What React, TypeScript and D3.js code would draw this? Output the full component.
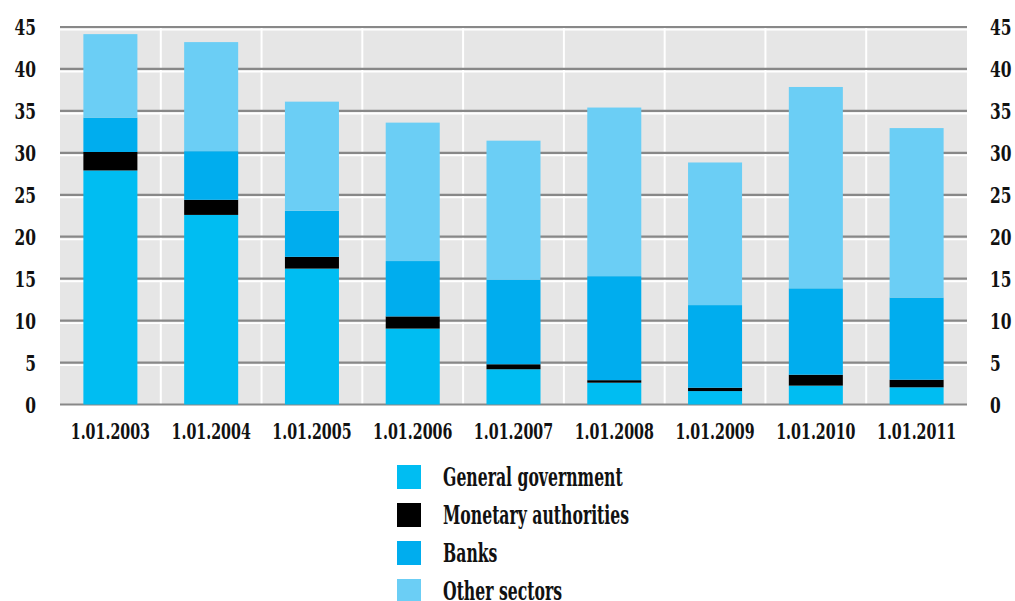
import React from "react";
import * as d3 from "d3";

const categories = ["1.01.2003", "1.01.2004", "1.01.2005", "1.01.2006", "1.01.2007", "1.01.2008", "1.01.2009", "1.01.2010", "1.01.2011"];
const seriesNames = ["General government", "Monetary authorities", "Banks", "Other sectors"];
const generalGovernment = [27.9, 22.6, 16.2, 9.05, 4.2, 2.6, 1.6, 2.25, 2.05];
const monetaryAuthorities = [2.2, 1.8, 1.4, 1.45, 0.6, 0.3, 0.4, 1.3, 0.9];
const banks = [4.1, 5.8, 5.5, 6.6, 10.05, 12.4, 9.85, 10.3, 9.8];
const otherSectors = [9.95, 13.0, 13.0, 16.5, 16.6, 20.1, 17.0, 24.0, 20.2];
const yTicks = [0, 5, 10, 15, 20, 25, 30, 35, 40, 45];
const colors = ["#00BDF2", "#000000", "#00ADEE", "#6BCEF5"];

const W = 1015, H = 601;
const left = 60, right = 967, top = 27, bottom = 404.5;
const FONT = "'DejaVu Serif Condensed', 'DejaVu Serif', serif";

export default function App() {
  const rows = categories.map((c, i) => ({
    cat: c,
    s0: generalGovernment[i],
    s1: monetaryAuthorities[i],
    s2: banks[i],
    s3: otherSectors[i],
  }));
  const stack = d3.stack<any>().keys(["s0", "s1", "s2", "s3"]);
  const stacked = stack(rows);
  const x = d3.scaleBand().domain(categories).range([left, right]).paddingInner(0.464).paddingOuter(0.232);
  const y = d3.scaleLinear().domain([0, 45]).range([bottom, top]);
  const step = x.step();
  const boundaries = categories.slice(1).map((c) => (x(c) as number) - step * 0.232);

  const ts: React.CSSProperties = { fontFamily: FONT, fontWeight: 700, fontStretch: "condensed" };
  return (
    <svg width={W} height={H} style={{ position: "absolute", left: 0, top: 0 }}>
      <rect x={left} y={top} width={right - left} height={bottom - top} fill="#E6E6E6" />
      {boundaries.map((b, i) => (
        <line key={"v" + i} x1={b} x2={b} y1={top} y2={bottom} stroke="#FFFFFF" strokeWidth={2} />
      ))}
      {yTicks.map((t) => (
        <g key={"g" + t}>
          <line x1={left} x2={right} y1={y(t)} y2={y(t)} stroke="#888888" strokeWidth={2.2} />
          <line x1={left} x2={right} y1={y(t) + 2.6} y2={y(t) + 2.6} stroke="#FFFFFF" strokeWidth={1.8} />
        </g>
      ))}
      {stacked.map((layer, li) => (
        <g key={"l" + li} fill={colors[li]}>
          {layer.map((d: any, i: number) => (
            <rect key={i} x={x(categories[i])} width={x.bandwidth()} y={y(d[1])} height={y(d[0]) - y(d[1])} />
          ))}
        </g>
      ))}
      {yTicks.map((t) => (
        <g key={"yl" + t}>
          <text style={ts} transform={`translate(36,${y(t) + 8}) scale(0.78,1)`} textAnchor="end" fontSize={22} fill="#111">{t}</text>
          <text style={ts} transform={`translate(990,${y(t) + 8}) scale(0.78,1)`} textAnchor="start" fontSize={22} fill="#111">{t}</text>
        </g>
      ))}
      {categories.map((c) => (
        <text style={ts} key={"xl" + c} transform={`translate(${(x(c) as number) + x.bandwidth() / 2},439) scale(0.72,1)`} textAnchor="middle" fontSize={22} fill="#111">{c}</text>
      ))}
      {seriesNames.map((s, i) => (
        <g key={"lg" + s}>
          <rect x={397} y={465 + i * 38} width={24} height={24} fill={colors[i]} />
          <text style={ts} transform={`translate(443,${486 + i * 38}) scale(0.67,1)`} fontSize={26} fill="#111">{s}</text>
        </g>
      ))}
    </svg>
  );
}
